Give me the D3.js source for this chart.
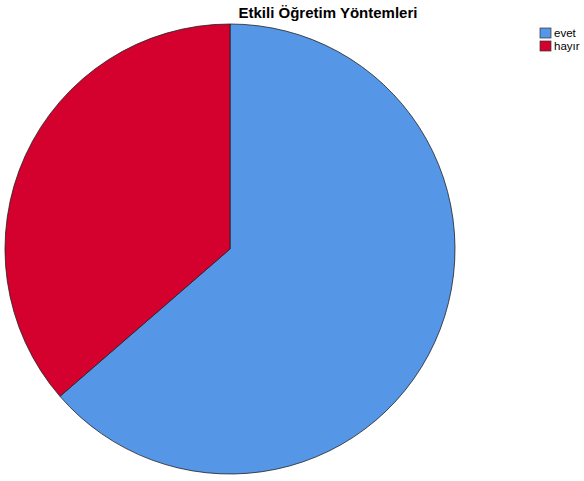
<!DOCTYPE html>
<html><head><meta charset="utf-8">
<script src="https://cdn.jsdelivr.net/npm/d3@7"></script>
<style>body{margin:0;background:#fff}svg{display:block}</style>
</head><body>
<script>
const categories = ["evet", "hayır"];
const values = [7, 4];
const colors = ["#5596e6", "#d4002e"];
const title = "Etkili Öğretim Yöntemleri";

const W = 584, H = 481;
const svg = d3.select("body").append("svg").attr("width", W).attr("height", H);
const cx = 230, cy = 249, r = 225;

const pie = d3.pie().sort(null).value(d => d.v);
const arcs = pie(categories.map((c, i) => ({c, v: values[i]})));
const arc = d3.arc().innerRadius(0).outerRadius(r);
const color = d3.scaleOrdinal().domain(categories).range(colors);

svg.append("g").attr("transform", `translate(${cx},${cy})`)
  .selectAll("path").data(arcs).join("path")
  .attr("d", arc).attr("fill", d => color(d.data.c))
  .attr("stroke", "#222").attr("stroke-width", 0.8);

svg.append("text").attr("x", 328).attr("y", 18).attr("text-anchor", "middle")
  .attr("font-family", "Arial, 'Liberation Sans', sans-serif").attr("font-weight", "bold")
  .attr("font-size", 15).attr("fill", "#000").text(title);

const lg = svg.append("g").attr("transform", "translate(540,28)");
categories.forEach((c, i) => {
  lg.append("rect").attr("x", 0).attr("y", i * 13).attr("width", 11).attr("height", 10)
    .attr("fill", color(c)).attr("stroke", "#333").attr("stroke-width", 0.7);
  lg.append("text").attr("x", 14).attr("y", i * 13 + 9)
    .attr("font-family", "Arial, 'Liberation Sans', sans-serif").attr("font-size", 11.5)
    .attr("fill", "#000").text(c);
});
</script>
</body></html>
